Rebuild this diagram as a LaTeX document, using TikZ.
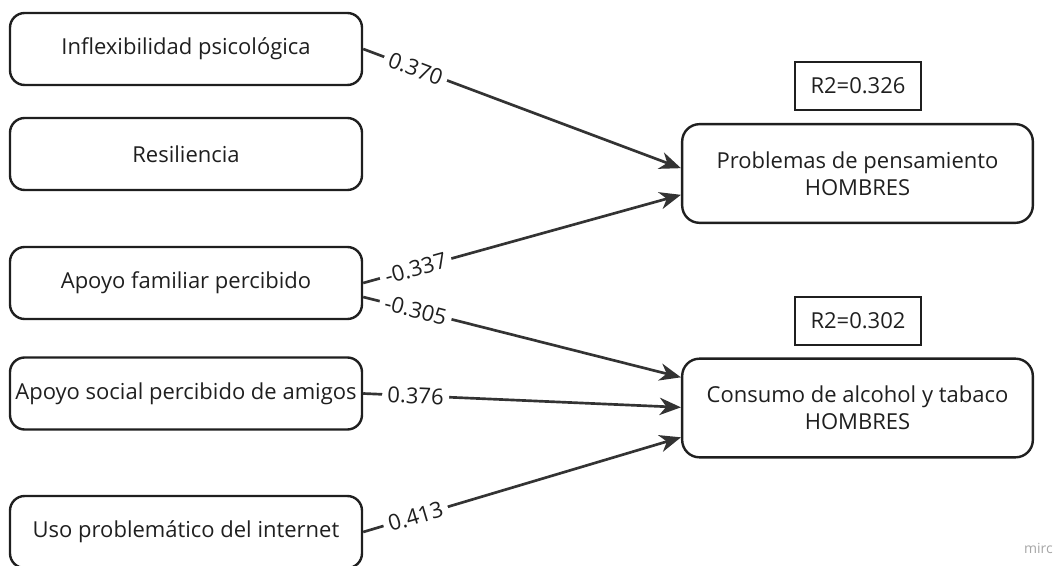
\documentclass[tikz,border=0pt]{standalone}
\usepackage{fontspec}
\setmainfont{Open Sans}
\usetikzlibrary{arrows.meta}

\begin{document}
\begin{tikzpicture}[x=0.75pt, y=-0.75pt,
  every node/.style={font=\fontsize{16.5pt}{20pt}\selectfont, text=black!88},
  predbox/.style={draw=black!88, line width=1.8pt, rounded corners=11pt, minimum width=264pt, minimum height=54pt, inner xsep=1pt},
  outbox/.style={draw=black!88, line width=1.8pt, rounded corners=13pt, minimum width=263pt, minimum height=74pt, align=center},
  rbox/.style={draw=black!88, line width=1.8pt, minimum width=94.5pt, minimum height=36pt},
  conn/.style={draw=black!80, line width=2pt, -{Stealth[length=16pt, width=13pt, inset=5pt]}},
  coef/.style={sloped, pos=0.165, fill=white, inner xsep=4pt, inner ysep=1pt}]

\useasboundingbox (0,0) rectangle (1055,566);

\node[predbox] (inflex) at (186,49) {Inflexibilidad psicológica};
\node[predbox] (resil) at (186,154) {Resiliencia};
\node[predbox] (fam) at (186,283) {Apoyo familiar percibido};
\node[predbox] (amig) at (186,393.5) {Apoyo social percibido de amigos};
\node[predbox] (uso) at (186,532) {Uso problemático del internet};

\node[rbox] (r2a) at (858,86) {R2=0.326};
\node[outbox] (prob) at (857.5,173.5) {Problemas de pensamiento\\HOMBRES};
\node[rbox] (r2b) at (858,321) {R2=0.302};
\node[outbox] (cons) at (857.5,408) {Consumo de alcohol y tabaco\\HOMBRES};

\draw[conn] (inflex.east) -- node[coef] {0.370} ([yshift=4pt]prob.west);
\draw[conn] (fam.east) -- node[coef] {-0.337} ([yshift=-16pt]prob.west);
\draw[conn] ([yshift=-10.5pt]fam.east) -- node[coef] {-0.305} ([yshift=23pt]cons.west);
\draw[conn] (amig.east) -- node[coef] {0.376} ([yshift=0.5pt]cons.west);
\draw[conn] (uso.east) -- node[coef] {0.413} ([yshift=-22pt]cons.west);

\node[anchor=east, font=\fontsize{10.5pt}{12pt}\selectfont, text=black!35, inner sep=0pt] (miro) at (1053,548) {mirc};

\end{tikzpicture}
\end{document}
